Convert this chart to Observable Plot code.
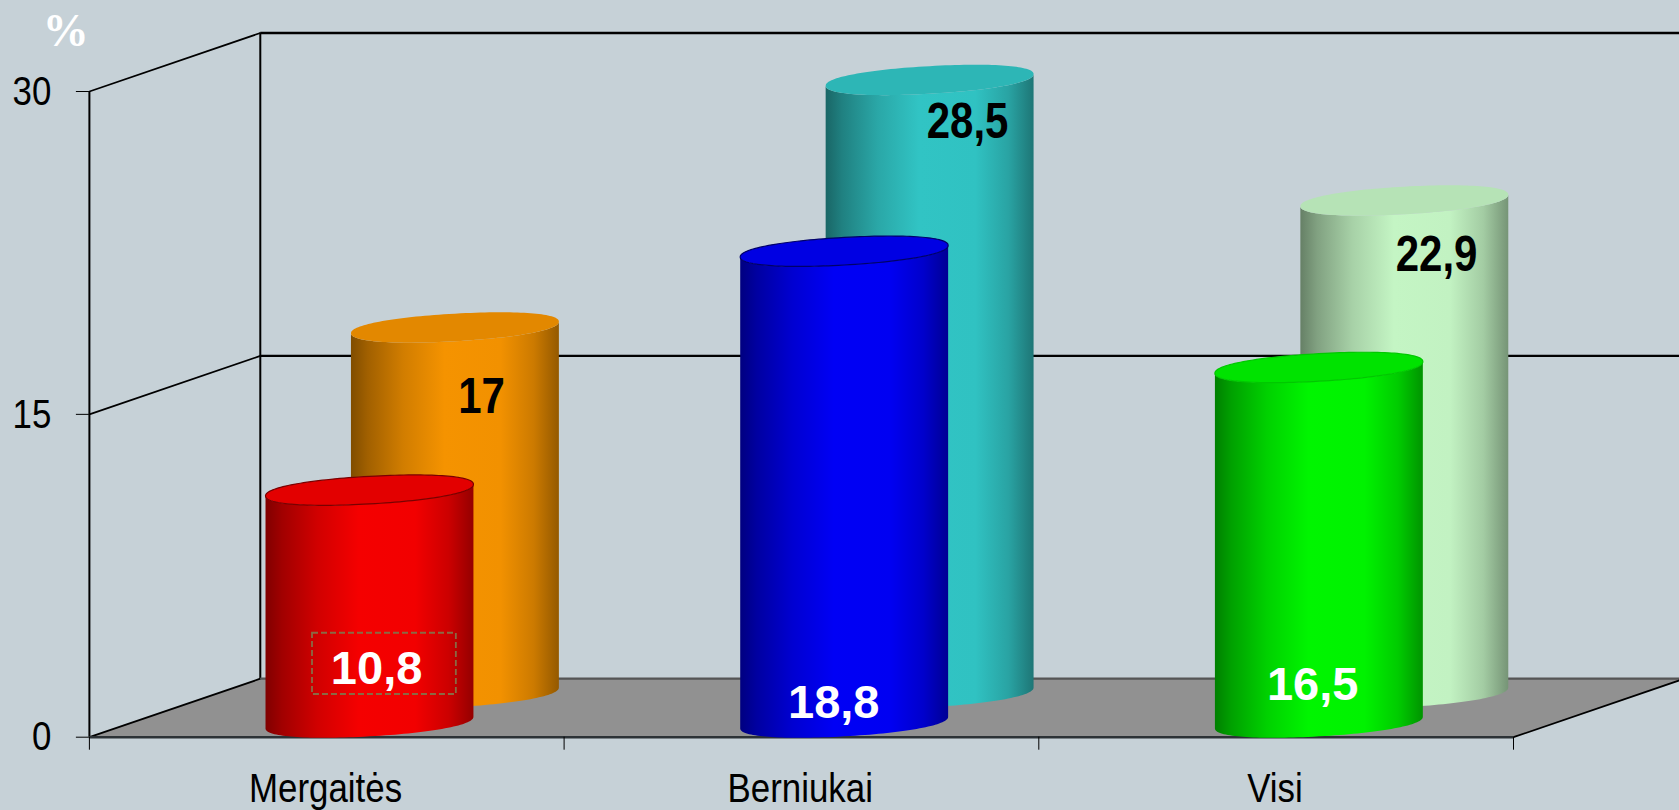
<!DOCTYPE html>
<html lang="lt">
<head>
<meta charset="utf-8">
<script src="https://cdn.jsdelivr.net/npm/d3@7"></script>
<script src="https://cdn.jsdelivr.net/npm/@observablehq/plot@0.6"></script>
<style>
html,body{margin:0;padding:0;background:#c6d1d7;overflow:hidden}
svg{display:block}
</style>
</head>
<body>
<div id="chart"></div>
<script>
// ---- Data ----
const categories = ["Mergaitės", "Berniukai", "Visi"];
const frontValues = [10.8, 21.9, 16.5];           // drawn heights of the front cylinders
const backValues = [17, 28.5, 22.9];              // drawn heights of the back cylinders
const frontLabels = ["10,8", "18,8", "16,5"];     // printed labels
const backLabels = ["17", "28,5", "22,9"];
const yTicks = [0, 15, 30];
const xTicks = [0, 1, 2, 3];
const frontColors = ["#ff0000", "#0000ff", "#00ff00"];
const backColors = ["#ff9900", "#33cccc", "#ccffcc"];

// ---- Pseudo-3D geometry, in data units ----
const depthX = 0.36, depthY = 2.717;     // shift of the back wall
const frontDepth = 0.25, backDepth = 0.75;
const radiusX = 0.219, radiusY = 0.64, tilt = 0.27;
const angles = d3.range(0, 145).map(i => i * Math.PI / 72);
const blunt = t => Math.sign(t) * Math.pow(Math.abs(t), 0.92);

const cx = (i, depth) => i + 0.5 + depth * depthX;
const base = depth => depth * depthY;
const rim = (x0, y0, th) => {
  const c = blunt(Math.cos(th)), s = blunt(Math.sin(th));
  return {x: x0 + radiusX * c, y: y0 + radiusY * s + tilt * c};
};

function cylinderMarks(i, depth, value, color, id, edge) {
  const x0 = cx(i, depth), y0 = base(depth), top = y0 + value;
  const frontArc = angles.filter(a => a >= Math.PI).map(a => rim(x0, y0, a));
  const body = [...frontArc, ...frontArc.slice().reverse().map(p => ({x: p.x, y: p.y + value}))];
  const cap = angles.map(a => rim(x0, top, a));
  const capColor = d3.rgb(color);
  capColor.r *= 0.89; capColor.g *= 0.89; capColor.b *= 0.89;
  return [
    Plot.line(body, {x: "x", y: "y", fill: `url(#${id})`, stroke: "none"}),
    Plot.line(cap, {x: "x", y: "y", fill: capColor.formatHex(), stroke: edge || "none", strokeWidth: 1.2})
  ];
}

const stops = [[0, .5], [.08, .63], [.25, .82], [.45, .96], [.72, .95], [.88, .8], [1, .58]];
function gradients() {
  const defs = d3.create("svg:defs");
  const add = (id, color) => {
    const g = defs.append("linearGradient").attr("id", id);
    for (const [o, f] of stops) {
      const c = d3.rgb(color);
      g.append("stop").attr("offset", o)
        .attr("stop-color", d3.rgb(c.r * f, c.g * f, c.b * f).formatHex());
    }
  };
  frontColors.forEach((c, i) => add("front" + i, c));
  backColors.forEach((c, i) => add("back" + i, c));
  return defs.node();
}

const sideWalls = yTicks.map(v => ({x1: 0, y1: v, x2: depthX, y2: v + depthY}));
const backLines = yTicks.slice(1).map(v => ({x1: depthX, y1: v + depthY, x2: 3 + depthX, y2: v + depthY}));
const floor = [
  {x: 0, y: 0}, {x: 3, y: 0}, {x: 3 + depthX, y: depthY}, {x: depthX, y: depthY}
];

// hand-placed value labels
const frontLabelPos = [[0.605, 3.16], [1.568, 1.61], [2.577, 2.41]];
const backLabelPos = [[0.826, 15.8], [1.85, 28.6], [2.838, 22.4]];
const frontText = frontLabels.map((t, i) => ({t, x: frontLabelPos[i][0], y: frontLabelPos[i][1]}));
const backText = backLabels.map((t, i) => ({t, x: backLabelPos[i][0], y: backLabelPos[i][1]}));
const sans = "'Liberation Sans',Arial,sans-serif";

const chart = Plot.plot({
  width: 1679, height: 810,
  marginLeft: 88.9, marginRight: 166, marginTop: 91, marginBottom: 73.3,
  style: {background: "#c6d1d7", fontFamily: sans, overflow: "hidden"},
  x: {domain: [0, 3], label: null},
  y: {domain: [0, 30], label: null},
  marks: [
    gradients,
    Plot.ruleX([0], {y1: 0, y2: 30, stroke: "#000", strokeWidth: 2}),
    Plot.ruleX([depthX], {y1: depthY, y2: 30 + depthY, stroke: "#000", strokeWidth: 2}),
    Plot.link(sideWalls.slice(1), {x1: "x1", y1: "y1", x2: "x2", y2: "y2", stroke: "#000", strokeWidth: 1.7}),
    Plot.link(backLines, {x1: "x1", y1: "y1", x2: "x2", y2: "y2", stroke: "#000", strokeWidth: 2.3}),
    Plot.line(floor, {x: "x", y: "y", fill: "#919191", stroke: "none"}),
    Plot.link([{x1: depthX, y1: depthY, x2: 3 + depthX, y2: depthY}], {x1: "x1", y1: "y1", x2: "x2", y2: "y2", stroke: "#555", strokeWidth: 2.2}),
    Plot.link([sideWalls[0], {x1: 3, y1: 0, x2: 3 + depthX, y2: depthY}], {x1: "x1", y1: "y1", x2: "x2", y2: "y2", stroke: "#000", strokeWidth: 1.8}),
    Plot.ruleY([0], {x1: 0, x2: 3, stroke: "#2c3236", strokeWidth: 2.6}),
    Plot.axisY({ticks: yTicks, anchor: "left", tickSize: 13, tickPadding: 25, fontSize: 41.5, label: null, stroke: "#000"}),
    Plot.axisX({ticks: xTicks, anchor: "bottom", tickSize: 13, tickFormat: () => "", label: null, stroke: "#000"}),
    Plot.axisX({ticks: [0.4975, 1.4975, 2.4975], anchor: "bottom", tickSize: 0, tickPadding: 35, fontSize: 41.5, label: null,
      tickFormat: d => categories[Math.floor(d)]}),
    ...backValues.flatMap((v, i) => cylinderMarks(i, backDepth, v, backColors[i], "back" + i)),
    ...frontValues.flatMap((v, i) => cylinderMarks(i, frontDepth, v, frontColors[i], "front" + i, ["#7a0000", "#00006a", "#00c800"][i])),
    Plot.rect([{x1: 0.47, x2: 0.773, y1: 1.983, y2: 4.83}], {x1: "x1", x2: "x2", y1: "y1", y2: "y2",
      fill: "none", stroke: "#8a6a44", strokeWidth: 1.8, strokeDasharray: "6,3"}),
    Plot.text(backText, {x: "x", y: "y", text: "t", fill: "#000", fontWeight: "bold", fontSize: 50, fontFamily: sans}),
    Plot.text(frontText, {x: "x", y: "y", text: "t", fill: "#fff", fontWeight: "bold", fontSize: 47, fontFamily: sans}),
    Plot.text(["%"], {x: [-0.05], y: [32.8], text: d => d, fill: "#fff", fontWeight: "bold", fontSize: 46, fontFamily: "'Liberation Serif','Times New Roman',serif"})
  ]
});
document.getElementById("chart").append(chart);

// No narrow face is installed: condense the narrow-set texts horizontally.
d3.select(chart).selectAll("text").each(function () {
  const s = this.textContent;
  const narrowSet = [...categories, ...yTicks.map(String), ...backLabels].includes(s);
  if (narrowSet) {
    this.setAttribute("textLength", this.getComputedTextLength() * 0.84);
    this.setAttribute("lengthAdjust", "spacingAndGlyphs");
  }
});
</script>
</body>
</html>
